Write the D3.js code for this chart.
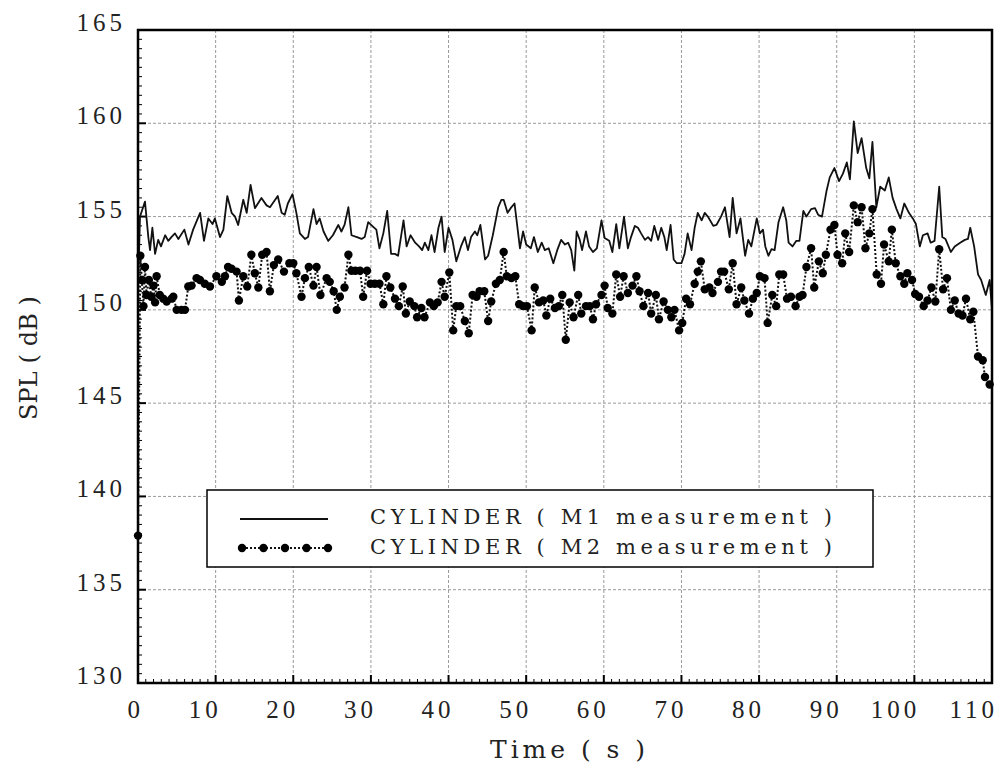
<!DOCTYPE html>
<html>
<head>
<meta charset="utf-8">
<script src="https://cdnjs.cloudflare.com/ajax/libs/d3/7.8.5/d3.min.js"></script>
<style>body{margin:0;background:#fff}</style>
</head>
<body>
<script>
// series data (time in s, SPL in dB)
var m1Time = [
    0, 0.26, 0.9, 1.33, 1.55, 1.85, 2.2, 2.6, 2.96, 3.5,
    3.9, 4.3, 4.76, 5.2, 5.97, 6.5, 7.1, 8.0, 8.5, 9.06,
    9.6, 9.9, 10.56, 11.0, 11.5, 12.06, 12.5, 12.9, 13.56, 14.0,
    14.5, 15.06, 15.9, 16.56, 17.0, 18.0, 18.5, 18.9, 19.3, 19.9,
    20.4, 20.85, 21.5, 21.9, 22.6, 23.0, 23.4, 23.9, 24.5, 25.1,
    25.8, 26.2, 26.6, 27.1, 27.5, 28.2, 28.8, 29.2, 29.65, 30.3,
    30.7, 31.1, 31.6, 32.1, 32.6, 33.1, 33.5, 34.2, 34.6, 35.1,
    35.7, 36.2, 36.6, 36.94, 37.4, 37.8, 38.2, 38.7, 39.1, 39.5,
    40.0, 40.5, 41.0, 41.6, 42.1, 42.5, 42.9, 43.4, 43.7, 44.1,
    44.7, 45.1, 45.7, 46.4, 46.8, 47.1, 47.6, 48.0, 48.5, 49.2,
    49.6, 50.0, 50.6, 51.0, 51.5, 52.0, 52.4, 52.9, 53.5, 54.0,
    54.5, 55.0, 55.4, 55.8, 56.2, 56.5, 56.9, 57.2, 57.7, 58.1,
    58.6, 59.1, 59.7, 60.1, 60.7, 61.1, 61.6, 62.0, 62.6, 63.1,
    63.5, 64.0, 64.4, 64.8, 65.3, 65.7, 66.1, 66.5, 67.0, 67.4,
    67.8, 68.1, 68.6, 69.0, 69.4, 70.0, 70.4, 70.8, 71.3, 71.7,
    72.1, 72.6, 73.0, 73.4, 74.1, 74.5, 75.1, 75.6, 76.2, 76.6,
    77.1, 77.6, 78.2, 78.6, 79.0, 79.7, 80.1, 80.5, 80.8, 81.2,
    81.6, 82.0, 82.5, 83.1, 83.5, 83.8, 84.3, 84.8, 85.2, 85.7,
    86.1, 86.7, 87.2, 87.6, 88.1, 88.7, 89.1, 89.7, 90.3, 90.8,
    91.3, 91.7, 92.2, 92.7, 93.2, 93.8, 94.2, 94.6, 95.1, 95.6,
    96.2, 96.7, 97.2, 97.7, 98.2, 98.7, 99.3, 99.8, 100.2, 100.7,
    101.1, 101.7, 102.1, 102.6, 103.2, 103.6, 104.0, 104.7, 105.2, 105.9,
    106.5, 106.9, 107.2, 107.7, 108.2, 108.6, 109.2, 109.7, 110.0
];
var m1Spl = [
    151.0, 155.0, 155.8, 153.9, 153.2, 154.4, 153.0, 153.75, 153.4, 154.0,
    153.7, 153.9, 154.1, 153.8, 154.3, 153.5, 154.3, 155.2, 153.7, 154.9,
    154.6, 154.9, 153.9, 154.3, 156.1, 155.2, 155.0, 154.55, 155.9, 155.2,
    156.7, 155.45, 156.0, 155.6, 155.5, 156.1, 155.2, 155.1, 155.7, 156.2,
    155.2, 154.1, 153.8, 153.9, 155.4, 154.6, 154.9, 154.2, 153.7, 154.0,
    154.55, 154.2, 154.55, 155.5, 154.0, 153.9, 153.8, 153.9, 154.7, 154.45,
    154.3, 153.3, 154.1, 155.3, 153.0, 153.0, 152.9, 154.8, 153.4, 154.0,
    153.6, 153.4, 153.2, 153.6, 153.2, 154.0, 153.1, 154.4, 155.0, 153.1,
    154.4, 153.75, 152.6, 153.4, 153.9, 153.2, 153.9, 154.2, 154.0, 154.55,
    152.7, 152.9, 154.0, 155.5, 155.9, 155.9, 155.2, 155.45, 155.7, 153.3,
    154.2, 153.5, 153.3, 153.9, 153.1, 153.6, 153.2, 153.3, 152.5, 153.2,
    153.75, 153.5, 153.6, 153.2, 152.1, 154.2, 153.75, 153.2, 154.2, 153.4,
    153.1, 153.3, 154.8, 153.85, 153.7, 153.1, 154.6, 153.3, 155.0, 153.3,
    153.9, 154.5, 154.4, 154.1, 153.75, 153.9, 153.7, 154.5, 153.75, 154.4,
    153.9, 153.2, 154.55, 152.7, 152.5, 152.5, 153.0, 154.1, 153.2, 154.4,
    155.2, 154.8, 155.2, 155.0, 154.5, 154.55, 155.0, 155.5, 153.9, 156.0,
    154.1, 154.9, 152.9, 153.75, 153.4, 154.9, 154.1, 154.3, 153.4, 152.9,
    153.25, 153.2, 154.7, 155.5, 154.8, 153.6, 153.4, 153.7, 153.7, 155.3,
    155.0, 155.4, 155.45, 155.1, 155.0, 156.4, 157.1, 157.6, 156.9, 157.3,
    157.9, 157.0, 160.1, 158.4, 159.2, 157.6, 157.05, 159.0, 155.5, 156.6,
    156.4, 157.1, 156.0, 155.4, 154.9, 155.7, 155.2, 154.9, 154.6, 153.4,
    154.0, 154.1, 153.6, 153.7, 156.6, 153.9, 153.8, 153.1, 153.4, 153.6,
    153.75, 153.8, 154.4, 153.4, 151.9, 151.6, 150.8, 151.6, 150.0
];
var m2Time = [
    0, 0.3, 0.5, 0.7, 0.9, 1.1, 1.4, 1.7, 2.0, 2.2,
    2.4, 2.8, 3.26, 3.69, 4.33, 4.55, 4.98, 5.6, 6.05, 6.48,
    6.9, 7.55, 7.98, 8.6, 9.27, 10.1, 10.8, 11.2, 11.6, 12.05,
    12.7, 13.0, 13.56, 14.07, 14.6, 15.05, 15.5, 16.0, 16.56, 16.99,
    17.5, 18.06, 18.8, 19.5, 20.0, 20.4, 21.06, 21.5, 22.0, 22.6,
    23.0, 23.5, 24.3, 24.7, 25.2, 25.6, 26.0, 26.6, 27.1, 27.5,
    28.0, 28.6, 29.0, 29.5, 29.95, 30.5, 31.1, 31.6, 32.0, 32.5,
    33.1, 33.6, 34.1, 34.5, 35.0, 35.6, 35.95, 36.5, 36.9, 37.6,
    38.1, 38.6, 39.1, 39.5, 40.1, 40.6, 41.0, 41.5, 42.1, 42.6,
    43.1, 43.6, 44.0, 44.6, 45.1, 45.5, 46.1, 46.6, 47.1, 47.5,
    48.1, 48.6, 49.1, 49.6, 50.1, 50.7, 51.1, 51.65, 52.2, 52.6,
    53.1, 53.7, 54.2, 54.65, 55.1, 55.6, 56.1, 56.7, 57.1, 57.7,
    58.2, 58.6, 59.0, 59.7, 60.1, 60.5, 61.1, 61.6, 62.1, 62.55,
    63.1, 63.7, 64.2, 64.6, 65.1, 65.7, 66.1, 66.7, 67.1, 67.7,
    68.25, 68.7, 69.1, 69.7, 70.1, 70.6, 71.1, 71.7, 72.1, 72.5,
    73.0, 73.6, 74.0, 74.7, 75.1, 75.5, 76.1, 76.6, 77.1, 77.7,
    78.1, 78.7, 79.2, 79.7, 80.1, 80.7, 81.1, 81.7, 82.2, 82.6,
    83.1, 83.6, 84.1, 84.7, 85.2, 85.6, 86.1, 86.7, 87.1, 87.7,
    88.2, 88.6, 89.2, 89.7, 90.1, 90.7, 91.1, 91.6, 92.2, 92.7,
    93.2, 93.7, 94.2, 94.6, 95.15, 95.7, 96.1, 96.7, 97.1, 97.6,
    98.2, 98.7, 99.1, 99.7, 100.1, 100.6, 101.2, 101.7, 102.2, 102.7,
    103.2, 103.7, 104.2, 104.7, 105.2, 105.7, 106.2, 106.65, 107.2, 107.6,
    108.2, 108.8, 109.1, 109.7
];
var m2Spl = [
    137.9, 152.9, 151.6, 150.2, 152.3, 150.8, 151.6, 150.7, 151.3, 150.4,
    151.8, 150.8, 150.6, 150.45, 150.6, 150.7, 150.0, 150.0, 150.0, 151.25,
    151.3, 151.7, 151.6, 151.4, 151.25, 151.8, 151.5, 151.8, 152.3, 152.2,
    152.05, 150.5, 151.8, 151.25, 152.95, 151.96, 151.2, 152.95, 153.1, 151.0,
    152.4, 152.7, 152.05, 152.5, 152.5, 151.96, 150.7, 151.7, 152.3, 151.3,
    152.3, 150.8, 151.7, 151.5, 151.0, 150.0, 150.7, 151.2, 152.95, 152.1,
    152.1, 152.1, 150.7, 152.1, 151.4, 151.4, 151.4, 150.3, 151.8, 151.2,
    150.6, 150.2, 151.25, 149.8, 150.45, 150.2, 149.6, 150.1, 149.6, 150.4,
    150.2, 150.4, 151.5, 150.7, 152.0, 148.9, 150.2, 150.2, 149.4, 148.75,
    150.8, 150.7, 151.0, 151.0, 149.4, 150.45, 151.4, 151.6, 153.1, 151.8,
    151.7, 151.8, 150.3, 150.2, 150.2, 148.9, 151.2, 150.4, 150.5, 149.7,
    150.6, 150.1, 150.2, 150.8, 148.4, 150.4, 149.6, 150.8, 149.8, 150.2,
    150.2, 149.5, 150.3, 150.8, 151.3, 150.1, 149.8, 151.9, 150.7, 151.8,
    150.9, 151.3, 151.8, 151.0, 150.2, 150.9, 149.8, 150.8, 149.5, 150.45,
    150.0, 149.6, 150.0, 148.9, 149.3, 150.6, 150.3, 151.4, 152.05, 152.6,
    151.1, 151.2, 150.9, 151.5, 152.05, 152.05, 151.1, 152.5, 150.3, 151.2,
    150.5, 149.8, 150.6, 150.9, 151.8, 151.7, 149.3, 150.8, 150.2, 151.9,
    151.9, 150.6, 150.7, 150.2, 150.7, 150.8, 152.3, 153.3, 151.2, 152.6,
    151.96, 152.95, 154.3, 154.55, 152.95, 152.5, 154.1, 153.1, 155.6, 154.7,
    155.5, 153.3, 154.1, 155.4, 151.9, 151.4, 153.5, 152.6, 154.3, 152.5,
    151.8, 151.4, 151.96, 151.6, 150.85, 150.7, 150.2, 150.5, 151.2, 150.45,
    153.25, 151.1, 151.7, 150.0, 150.5, 149.8, 149.7, 150.6, 149.5, 149.9,
    147.5, 147.3, 146.4, 146.0
];

// axis ticks and labels
var xTickValues = [0, 10, 20, 30, 40, 50, 60, 70, 80, 90, 100, 110];
var yTickValues = [130, 135, 140, 145, 150, 155, 160, 165];
var legendLabels = ['CYLINDER ( M1 measurement )', 'CYLINDER ( M2 measurement )'];

var svgW = 1000, svgH = 768;
var plot = {left: 138, right: 992, top: 30, bottom: 683};
var serif = '"Liberation Serif", "DejaVu Serif", serif';
var wideSerif = '"DejaVu Serif", "Liberation Serif", serif';

var x = d3.scaleLinear().domain([0, 110]).range([plot.left, plot.right]);
var y = d3.scaleLinear().domain([130, 165]).range([plot.bottom, plot.top]);

//draw the layout
var svg = d3.select('body')
    .append('svg')
    .attr('width', svgW)
    .attr('height', svgH)
    .style('background', '#fff');

//grid lines
svg.append('g')
    .selectAll('line')
    .data(xTickValues.slice(1, -1))
    .enter().append('line')
    .attr('x1', function (d) { return x(d); })
    .attr('x2', function (d) { return x(d); })
    .attr('y1', plot.top)
    .attr('y2', plot.bottom)
    .style('stroke', '#9a9a9a')
    .style('stroke-width', 1)
    .style('stroke-dasharray', '3,2');

svg.append('g')
    .selectAll('line')
    .data(yTickValues.slice(1, -1))
    .enter().append('line')
    .attr('x1', plot.left)
    .attr('x2', plot.right)
    .attr('y1', function (d) { return y(d); })
    .attr('y2', function (d) { return y(d); })
    .style('stroke', '#9a9a9a')
    .style('stroke-width', 1)
    .style('stroke-dasharray', '3,2');

//minor and major ticks pointing inward
var xMinor = x.ticks(110);
var yMinor = y.ticks(70);

svg.append('g')
    .selectAll('line')
    .data(xMinor)
    .enter().append('line')
    .attr('x1', function (d) { return x(d); })
    .attr('x2', function (d) { return x(d); })
    .attr('y1', plot.bottom)
    .attr('y2', function (d) { return plot.bottom - (d % 10 === 0 ? 8 : 4); })
    .style('stroke', '#000')
    .style('stroke-width', function (d) { return d % 10 === 0 ? 2 : 1; });

svg.append('g')
    .selectAll('line')
    .data(yMinor)
    .enter().append('line')
    .attr('x1', plot.left)
    .attr('x2', function (d) { return plot.left + (d % 5 === 0 ? 8 : 4); })
    .attr('y1', function (d) { return y(d); })
    .attr('y2', function (d) { return y(d); })
    .style('stroke', '#000')
    .style('stroke-width', function (d) { return d % 5 === 0 ? 2 : 1; });

//tick labels
svg.append('g')
    .selectAll('text')
    .data(xTickValues)
    .enter().append('text')
    .attr('x', function (d) { return x(d) + 6; })
    .attr('y', 718)
    .attr('text-anchor', 'end')
    .style('font-family', serif)
    .style('font-size', '25px')
    .style('letter-spacing', '4px')
    .style('fill', '#222')
    .text(function (d) { return d; });

svg.append('g')
    .selectAll('text')
    .data(yTickValues)
    .enter().append('text')
    .attr('x', 126)
    .attr('y', function (d) { return y(d) + 1; })
    .attr('text-anchor', 'end')
    .style('font-family', serif)
    .style('font-size', '25px')
    .style('letter-spacing', '4px')
    .style('fill', '#222')
    .text(function (d) { return d; });

//axis titles
svg.append('text')
    .attr('x', 490)
    .attr('y', 758)
    .attr('textLength', 155)
    .attr('lengthAdjust', 'spacing')
    .style('font-family', wideSerif)
    .style('font-size', '25px')
    .style('fill', '#222')
    .text('Time ( s )');

svg.append('text')
    .attr('transform', 'translate(37,420) rotate(-90)')
    .attr('textLength', 124)
    .attr('lengthAdjust', 'spacing')
    .style('font-family', wideSerif)
    .style('font-size', '24px')
    .style('fill', '#222')
    .text('SPL ( dB )');

//M1 series: solid line
var m1Data = m1Time.map(function (t, i) { return [t, m1Spl[i]]; });
var m2Data = m2Time.map(function (t, i) { return [t, m2Spl[i]]; });

var line = d3.line()
    .x(function (d) { return x(d[0]); })
    .y(function (d) { return y(d[1]); });

svg.append('path')
    .datum(m1Data)
    .attr('d', line)
    .style('fill', 'none')
    .style('stroke', '#111')
    .style('stroke-width', 1.8)
    .style('stroke-linejoin', 'round');

//M2 series: dotted line with filled dots
svg.append('path')
    .datum(m2Data)
    .attr('d', line)
    .style('fill', 'none')
    .style('stroke', '#111')
    .style('stroke-width', 2)
    .style('stroke-dasharray', '2,2');

svg.append('g')
    .selectAll('circle')
    .data(m2Data)
    .enter().append('circle')
    .attr('cx', function (d) { return x(d[0]); })
    .attr('cy', function (d) { return y(d[1]); })
    .attr('r', 4.2)
    .style('fill', '#000');

//plot frame
svg.append('rect')
    .attr('x', plot.left)
    .attr('y', plot.top)
    .attr('width', plot.right - plot.left)
    .attr('height', plot.bottom - plot.top)
    .style('fill', 'none')
    .style('stroke', '#000')
    .style('stroke-width', 2.5);

//legend
var legend = svg.append('g');

legend.append('rect')
    .attr('x', 207)
    .attr('y', 490)
    .attr('width', 666)
    .attr('height', 77)
    .style('fill', '#fff')
    .style('stroke', '#000')
    .style('stroke-width', 1.5);

legend.append('line')
    .attr('x1', 240).attr('x2', 328)
    .attr('y1', 519).attr('y2', 519)
    .style('stroke', '#111')
    .style('stroke-width', 1.8);

legend.append('line')
    .attr('x1', 242).attr('x2', 328)
    .attr('y1', 548).attr('y2', 548)
    .style('stroke', '#111')
    .style('stroke-width', 2)
    .style('stroke-dasharray', '2,2');

legend.selectAll('circle')
    .data([242, 263.5, 285, 306.5, 328])
    .enter().append('circle')
    .attr('cx', function (d) { return d; })
    .attr('cy', 548)
    .attr('r', 4.2)
    .style('fill', '#000');

legend.selectAll('text')
    .data(legendLabels)
    .enter().append('text')
    .attr('x', 370)
    .attr('y', function (d, i) { return 524 + i * 30; })
    .attr('textLength', 462)
    .attr('lengthAdjust', 'spacing')
    .style('font-family', wideSerif)
    .style('font-size', '21px')
    .style('fill', '#222')
    .text(function (d) { return d; });
</script>
</body>
</html>
